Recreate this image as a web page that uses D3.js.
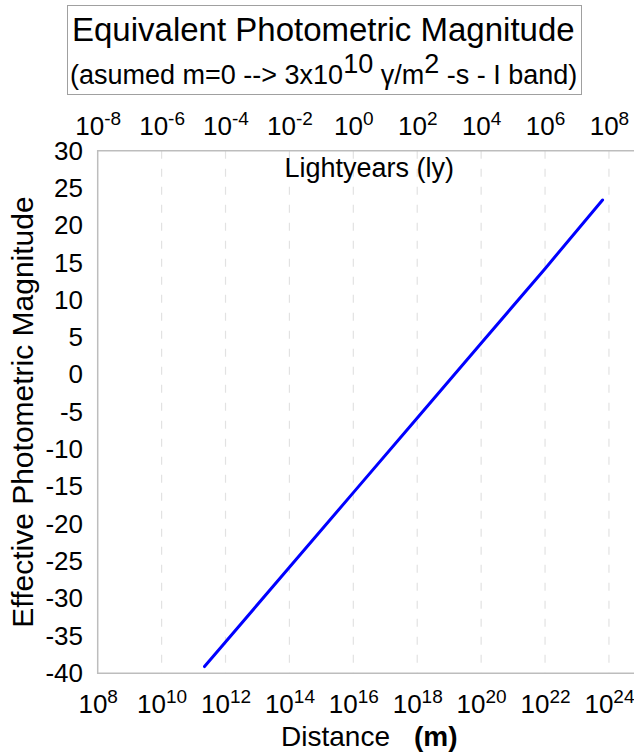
<!DOCTYPE html>
<html>
<head>
<meta charset="utf-8">
<script src="https://cdn.jsdelivr.net/npm/d3@7"></script>
<style>
  body { margin: 0; background: #fff; }
  text { font-family: "Liberation Sans", Arial, sans-serif; fill: #000; }
</style>
</head>
<body>
<div id="chart"></div>
<script>
// values
const distM = [2.2e11, 1e12, 1e14, 1e16, 1e18, 1e20, 1e22, 6.3e23];
const magnitude = [-39.1, -35.8, -25.8, -15.8, -5.8, 4.2, 14.2, 23.4];

const bottomExp = [8, 10, 12, 14, 16, 18, 20, 22, 24];   // metres
const topExp = [-8, -6, -4, -2, 0, 2, 4, 6, 8];          // lightyears
const yTicks = [30, 25, 20, 15, 10, 5, 0, -5, -10, -15, -20, -25, -30, -35, -40];

const width = 634, height = 753;
const plotL = 97.7, plotR = 640.9, plotT = 150.7, plotB = 673.3;

const svg = d3.select('#chart').append('svg')
  .attr('width', width)
  .attr('height', height);

const x = d3.scaleLog().domain([1e8, 1e25]).range([plotL, plotR]);
const xTop = d3.scaleLog().domain([1e-8, 1e9]).range([plotL, plotR]);
const y = d3.scaleLinear().domain([-40, 30]).range([plotB, plotT]);

// title box
svg.append('rect')
  .attr('x', 67.5).attr('y', 5.5)
  .attr('width', 514).attr('height', 89)
  .attr('fill', '#fff')
  .attr('stroke', '#a0a0a0');

svg.append('text')
  .attr('x', 72).attr('y', 41)
  .attr('font-size', 33)
  .text('Equivalent Photometric Magnitude');

const sub = svg.append('text')
  .attr('x', 70).attr('y', 84)
  .attr('font-size', 27);
sub.append('tspan').text('(asumed m=0 --> 3x10');
sub.append('tspan').attr('dy', -11).text('10');
sub.append('tspan').attr('dy', 11).text(' \u03b3/m');
sub.append('tspan').attr('dy', -11).text('2');
sub.append('tspan').attr('dy', 11).text(' -s - I band)');

// vertical dashed grid
svg.append('g')
  .selectAll('line')
  .data(bottomExp.slice(1))
  .join('line')
  .attr('x1', d => x(Math.pow(10, d)))
  .attr('x2', d => x(Math.pow(10, d)))
  .attr('y1', plotT).attr('y2', plotB)
  .attr('stroke', '#e2e2e2')
  .attr('stroke-width', 1.2)
  .attr('stroke-dasharray', '8,10');

// plot frame (right side runs off the page)
svg.append('path')
  .attr('d', `M${plotR},${plotT}H${plotL}V${plotB}H${plotR}`)
  .attr('fill', 'none')
  .attr('stroke', '#bdbdbd')
  .attr('stroke-width', 1.5);

// power-of-ten label helper
function powLabel(sel, base) {
  sel.selectAll('.tick text').each(function(d) {
    const e = Math.round(Math.log10(d));
    const t = d3.select(this).text(null)
      .attr('font-size', 26)
      .attr('font-family', '"Liberation Sans", Arial, sans-serif')
      .attr('text-anchor', 'middle')
      .attr('fill', '#000');
    t.append('tspan').text('10');
    t.append('tspan').attr('dy', base).attr('font-size', 19).text(e);
  });
}

const gx = svg.append('g')
  .attr('transform', `translate(0,${plotB})`)
  .call(d3.axisBottom(x)
    .tickValues(bottomExp.map(e => Math.pow(10, e)))
    .tickSize(0).tickPadding(0));
gx.select('.domain').remove();
gx.selectAll('.tick text').attr('dy', null).attr('y', 39.4);
gx.call(powLabel, -10);

const gt = svg.append('g')
  .attr('transform', `translate(0,${plotT})`)
  .call(d3.axisTop(xTop)
    .tickValues(topExp.map(e => Math.pow(10, e)))
    .tickSize(0).tickPadding(0));
gt.select('.domain').remove();
gt.selectAll('.tick text').attr('dy', null).attr('y', 135 - plotT);
gt.call(powLabel, -10);

const gy = svg.append('g')
  .attr('transform', `translate(${plotL},0)`)
  .call(d3.axisLeft(y)
    .tickValues(yTicks)
    .tickFormat(d => String(d))
    .tickSize(0).tickPadding(14.7));
gy.select('.domain').remove();
gy.selectAll('.tick text')
  .attr('font-size', 26)
  .attr('font-family', '"Liberation Sans", Arial, sans-serif')
  .attr('fill', '#000');

// axis titles
svg.append('text')
  .attr('x', (plotL + plotR) / 2).attr('y', 177)
  .attr('text-anchor', 'middle')
  .attr('font-size', 27)
  .text('Lightyears (ly)');

const xt = svg.append('text')
  .attr('x', (plotL + plotR) / 2).attr('y', 746)
  .attr('text-anchor', 'middle')
  .attr('font-size', 28);
xt.append('tspan').text('Distance');
xt.append('tspan').attr('dx', 24).attr('font-weight', 'bold').text('(m)');

svg.append('text')
  .attr('transform', `translate(33,${(plotT + plotB) / 2}) rotate(-90)`)
  .attr('text-anchor', 'middle')
  .attr('font-size', 30)
  .text('Effective Photometric Magnitude');

// the magnitude line
const line = d3.line()
  .x((d, i) => x(distM[i]))
  .y(d => y(d));

svg.append('path')
  .datum(magnitude)
  .attr('d', line)
  .attr('fill', 'none')
  .attr('stroke', '#0000ff')
  .attr('stroke-width', 3)
  .attr('stroke-linecap', 'round');
</script>
</body>
</html>
